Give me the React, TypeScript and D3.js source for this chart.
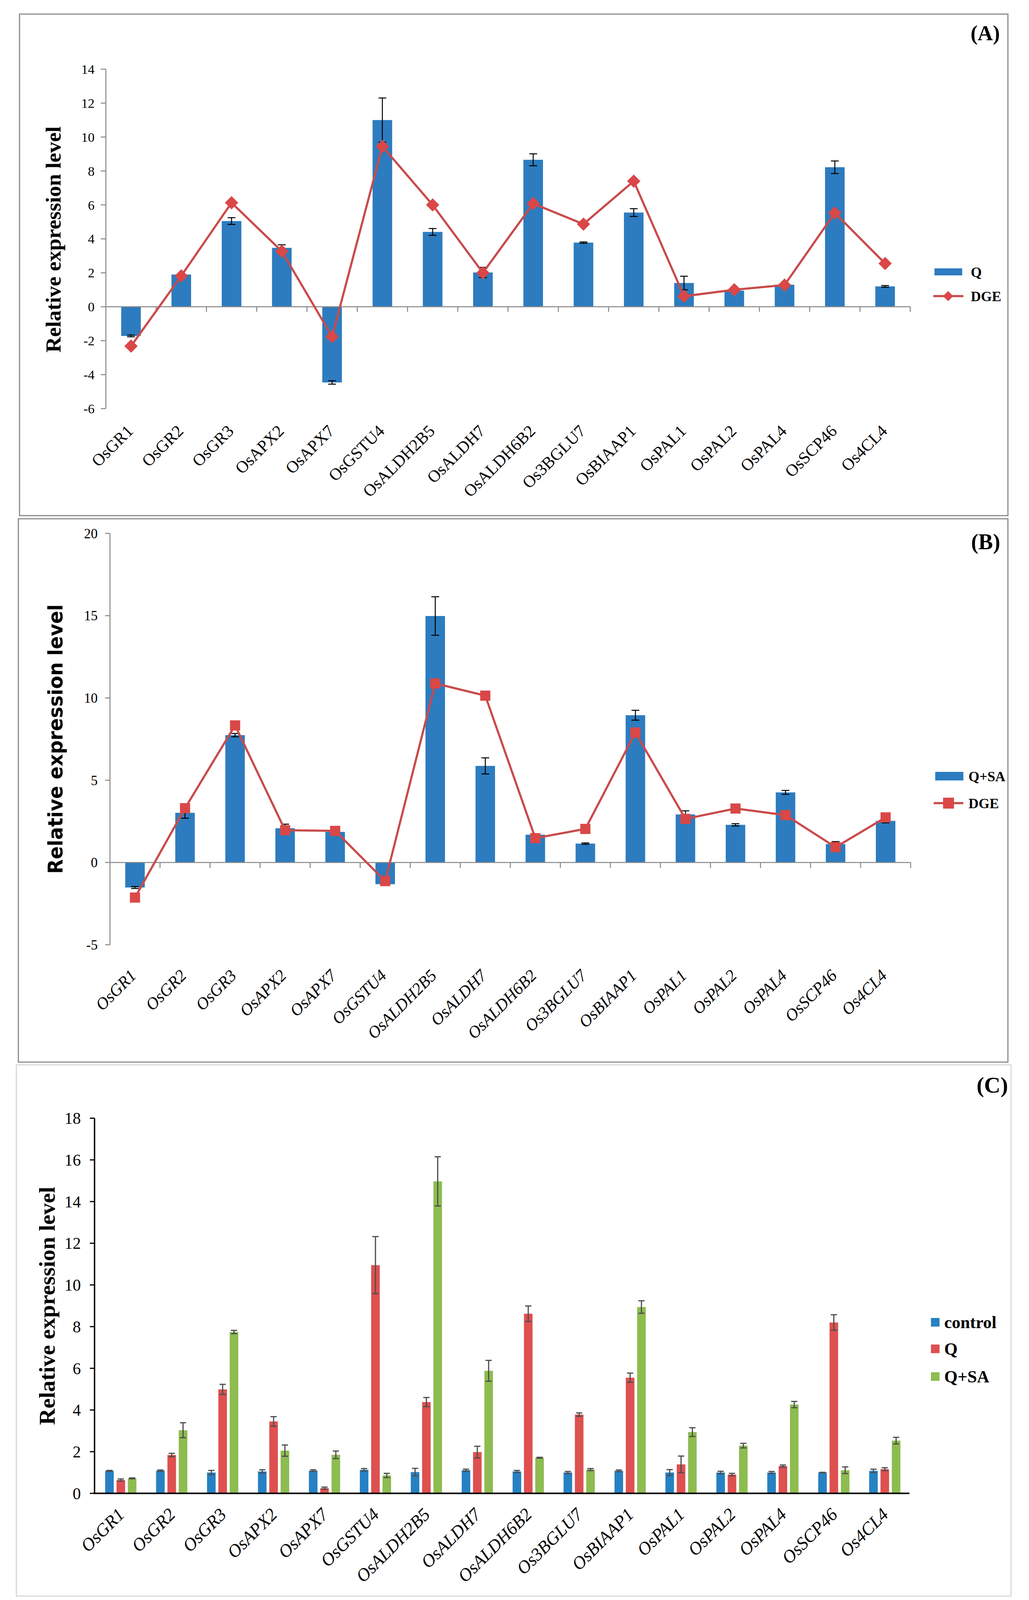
import React from "react";
import * as d3 from "d3";

// ---------------- DATA ----------------
const genes = [
  "OsGR1", "OsGR2", "OsGR3", "OsAPX2", "OsAPX7", "OsGSTU4", "OsALDH2B5", "OsALDH7",
  "OsALDH6B2", "Os3BGLU7", "OsBIAAP1", "OsPAL1", "OsPAL2", "OsPAL4", "OsSCP46", "Os4CL4",
];

// Panel A: Q (qRT-PCR) vs DGE
const qA = [-1.72, 1.9, 5.05, 3.47, -4.46, 11.0, 4.41, 2.02, 8.66, 3.78, 5.55, 1.4, 0.95, 1.3, 8.22, 1.2];
const qAErr = [0.05, 0.05, 0.2, 0.18, 0.1, 1.3, 0.2, 0.3, 0.35, 0.04, 0.23, 0.4, 0.05, 0.05, 0.37, 0.05];
const dgeA = [-2.32, 1.82, 6.13, 3.27, -1.76, 9.45, 6.0, 2.0, 6.08, 4.87, 7.4, 0.62, 1.0, 1.28, 5.53, 2.55];
const ticksA = [-6, -4, -2, 0, 2, 4, 6, 8, 10, 12, 14];

// Panel B: Q+SA vs DGE
const qsaB = [-1.52, 3.02, 7.74, 2.08, 1.86, -1.32, 14.98, 5.87, 1.69, 1.15, 8.95, 2.92, 2.29, 4.26, 1.12, 2.53];
const qsaBErr = [0.06, 0.33, 0.1, 0.25, 0.18, 0.05, 1.17, 0.49, 0.03, 0.04, 0.3, 0.22, 0.07, 0.12, 0.15, 0.12];
const dgeB = [-2.13, 3.3, 8.33, 1.96, 1.92, -1.13, 10.88, 10.14, 1.48, 2.04, 7.9, 2.65, 3.28, 2.88, 0.93, 2.74];
const ticksB = [-5, 0, 5, 10, 15, 20];

// Panel C: control, Q, Q+SA
const ctrlC = [1.08, 1.09, 1.0, 1.05, 1.09, 1.13, 1.02, 1.11, 1.05, 1.0, 1.08, 1.0, 1.0, 1.0, 1.0, 1.08];
const ctrlCErr = [0.02, 0.03, 0.1, 0.08, 0.04, 0.06, 0.18, 0.05, 0.05, 0.05, 0.04, 0.14, 0.06, 0.05, 0.01, 0.08];
const qC = [0.64, 1.84, 4.99, 3.45, 0.25, 10.95, 4.38, 1.98, 8.62, 3.78, 5.55, 1.39, 0.9, 1.31, 8.2, 1.16];
const qCErr = [0.05, 0.08, 0.24, 0.23, 0.05, 1.37, 0.22, 0.28, 0.37, 0.08, 0.22, 0.4, 0.06, 0.05, 0.37, 0.07];
const qsaC = [0.72, 3.03, 7.74, 2.05, 1.85, 0.86, 14.97, 5.88, 1.71, 1.14, 8.94, 2.94, 2.29, 4.26, 1.11, 2.53];
const qsaCErr = [0.02, 0.36, 0.08, 0.27, 0.18, 0.1, 1.18, 0.5, 0.02, 0.05, 0.3, 0.21, 0.11, 0.15, 0.16, 0.16];
const ticksC = [0, 2, 4, 6, 8, 10, 12, 14, 16, 18];
const seriesC = ["control", "Q", "Q+SA"];

// ---------------- STYLE ----------------
const SERIF = "'Liberation Serif', 'Times New Roman', serif";
const SANS = "'DejaVu Sans', Verdana, sans-serif";
const BLUE = "#2C7CBF";
const LINE_RED = "#C94B4B";
const MARK_RED = "#DA4747";
const C_COLORS = ["#2681C3", "#DF5050", "#8DBC50"];

function ErrBar({ x, y1, y2, hw, stroke, sw }: any) {
  return (
    <g stroke={stroke} strokeWidth={sw}>
      <line x1={x} x2={x} y1={y1} y2={y2} />
      <line x1={x - hw} x2={x + hw} y1={y1} y2={y1} />
      <line x1={x - hw} x2={x + hw} y1={y2} y2={y2} />
    </g>
  );
}

function PanelA() {
  const x = d3.scaleBand<string>().domain(genes).range([271, 2330]);
  const y = d3.scaleLinear().domain([-6, 14]).range([1046, 177]);
  const bw = x.bandwidth() * 0.39;
  const cx = (g: string) => (x(g) as number) + x.bandwidth() / 2;
  const line = d3.line<number>().x((_, i) => cx(genes[i])).y((d) => y(d));
  const diamond = (px: number, py: number, r: number) =>
    `M${px},${py - r}L${px + r},${py}L${px},${py + r}L${px - r},${py}Z`;
  const axisColor = "#868686";
  return (
    <g>
      <rect x={50} y={36} width={2530} height={1284} fill="none" stroke="#8c8c8c" strokeWidth={3} />
      {/* y axis */}
      <line x1={271} x2={271} y1={y(-6)} y2={y(14)} stroke={axisColor} strokeWidth={2.5} />
      {ticksA.map((t) => (
        <g key={t}>
          <line x1={258} x2={271} y1={y(t)} y2={y(t)} stroke={axisColor} strokeWidth={2.5} />
          <text x={242} y={y(t)} dy="0.35em" textAnchor="end" fontFamily={SERIF} fontSize={34}>{t}</text>
        </g>
      ))}
      {/* bars */}
      {genes.map((g, i) => (
        <rect key={g} x={cx(g) - bw / 2} width={bw} y={Math.min(y(0), y(qA[i]))}
          height={Math.abs(y(qA[i]) - y(0))} fill={BLUE} />
      ))}
      {/* x axis */}
      <line x1={271} x2={2330} y1={y(0)} y2={y(0)} stroke={axisColor} strokeWidth={2.5} />
      {genes.map((g) => (
        <line key={g} x1={(x(g) as number) + x.bandwidth()} x2={(x(g) as number) + x.bandwidth()}
          y1={y(0)} y2={y(0) + 13} stroke={axisColor} strokeWidth={2.5} />
      ))}
      {genes.map((g, i) => (
        <ErrBar key={g} x={cx(g)} y1={y(qA[i] + qAErr[i])} y2={y(qA[i] - qAErr[i])} hw={10} stroke="#000" sw={2.5} />
      ))}
      <path d={line(dgeA) as string} fill="none" stroke={LINE_RED} strokeWidth={5.5} />
      {genes.map((g, i) => (
        <path key={g} d={diamond(cx(g), y(dgeA[i]), 17)} fill={MARK_RED} />
      ))}
      {genes.map((g) => (
        <text key={g} transform={`translate(${cx(g) + 8},${1106}) rotate(-45)`} textAnchor="end"
          fontFamily={SERIF} fontSize={43}>{g}</text>
      ))}
      <text transform="translate(136,613) rotate(-90)" textAnchor="middle" dy="0.35em" fontFamily={SERIF}
        fontWeight="bold" fontSize={54} textLength={579} lengthAdjust="spacingAndGlyphs">Relative expression level</text>
      {/* legend */}
      <rect x={2392} y={687} width={71} height={18} fill={BLUE} />
      <text x={2485} y={696} dy="0.35em" fontFamily={SERIF} fontWeight="bold" fontSize={36}>Q</text>
      <line x1={2389} x2={2466} y1={758} y2={758} stroke={LINE_RED} strokeWidth={5.5} />
      <path d={diamond(2427, 758, 13)} fill={MARK_RED} />
      <text x={2485} y={758} dy="0.35em" fontFamily={SERIF} fontWeight="bold" fontSize={36}>DGE</text>
      <text x={2522} y={103} textAnchor="middle" fontFamily={SERIF} fontWeight="bold" fontSize={54}>(A)</text>
    </g>
  );
}

function PanelB() {
  const x = d3.scaleBand<string>().domain(genes).range([281.5, 2331]);
  const y = d3.scaleLinear().domain([-5, 20]).range([2418.6, 1365.5]);
  const bw = x.bandwidth() * 0.39;
  const cx = (g: string) => (x(g) as number) + x.bandwidth() / 2;
  const line = d3.line<number>().x((_, i) => cx(genes[i])).y((d) => y(d));
  const axisColor = "#868686";
  const ms = 26;
  return (
    <g>
      <rect x={47} y={1328} width={2533} height={1391} fill="none" stroke="#8c8c8c" strokeWidth={3} />
      <line x1={281.5} x2={281.5} y1={y(-5)} y2={y(20)} stroke={axisColor} strokeWidth={2.5} />
      {ticksB.map((t) => (
        <g key={t}>
          <line x1={269} x2={281.5} y1={y(t)} y2={y(t)} stroke={axisColor} strokeWidth={2.5} />
          <text x={250} y={y(t)} dy="0.35em" textAnchor="end" fontFamily={SERIF} fontSize={35}>{t}</text>
        </g>
      ))}
      {genes.map((g, i) => (
        <rect key={g} x={cx(g) - bw / 2} width={bw} y={Math.min(y(0), y(qsaB[i]))}
          height={Math.abs(y(qsaB[i]) - y(0))} fill={BLUE} />
      ))}
      <line x1={281.5} x2={2331} y1={y(0)} y2={y(0)} stroke={axisColor} strokeWidth={2.5} />
      {genes.map((g) => (
        <line key={g} x1={(x(g) as number) + x.bandwidth()} x2={(x(g) as number) + x.bandwidth()}
          y1={y(0)} y2={y(0) + 14} stroke={axisColor} strokeWidth={2.5} />
      ))}
      {genes.map((g, i) => (
        <ErrBar key={g} x={cx(g)} y1={y(qsaB[i] + qsaBErr[i])} y2={y(qsaB[i] - qsaBErr[i])} hw={10} stroke="#000" sw={2.5} />
      ))}
      <path d={line(dgeB) as string} fill="none" stroke={LINE_RED} strokeWidth={5.5} />
      {genes.map((g, i) => (
        <rect key={g} x={cx(g) - ms / 2} y={y(dgeB[i]) - ms / 2} width={ms} height={ms} fill={MARK_RED} />
      ))}
      {genes.map((g) => (
        <text key={g} transform={`translate(${cx(g) + 6},${2500}) rotate(-45)`} textAnchor="end"
          fontFamily={SERIF} fontStyle="italic" fontSize={43}>{g}</text>
      ))}
      <text transform="translate(142,1892) rotate(-90)" textAnchor="middle" dy="0.35em" fontFamily={SANS}
        fontWeight="bold" fontSize={52} textLength={690} lengthAdjust="spacingAndGlyphs">Relative expression level</text>
      <rect x={2394} y={1976} width={72} height={22} fill={BLUE} />
      <text x={2479} y={1987} dy="0.35em" fontFamily={SERIF} fontWeight="bold" fontSize={36}>Q+SA</text>
      <line x1={2390} x2={2466} y1={2056} y2={2056} stroke={LINE_RED} strokeWidth={5.5} />
      <rect x={2428 - 14} y={2056 - 14} width={28} height={28} fill={MARK_RED} />
      <text x={2479} y={2056} dy="0.35em" fontFamily={SERIF} fontWeight="bold" fontSize={36}>DGE</text>
      <text x={2523} y={1406} textAnchor="middle" fontFamily={SERIF} fontWeight="bold" fontSize={56}>(B)</text>
    </g>
  );
}

function PanelC() {
  const x = d3.scaleBand<string>().domain(genes).range([242, 2328]);
  const y = d3.scaleLinear().domain([0, 18]).range([3823, 2862.6]);
  const bw = 22;
  const step = 29;
  const cx = (g: string) => (x(g) as number) + x.bandwidth() / 2 + 2;
  const vals = [ctrlC, qC, qsaC];
  const errs = [ctrlCErr, qCErr, qsaCErr];
  return (
    <g>
      <rect x={42} y={2726} width={2546} height={1360} fill="none" stroke="#d9d9d9" strokeWidth={3} />
      {vals.map((arr, k) =>
        genes.map((g, i) => (
          <rect key={`${k}-${g}`} x={cx(g) + (k - 1) * step - bw / 2} width={bw} y={y(arr[i])}
            height={y(0) - y(arr[i])} fill={C_COLORS[k]} />
        ))
      )}
      {vals.map((arr, k) =>
        genes.map((g, i) => (
          <ErrBar key={`e${k}-${g}`} x={cx(g) + (k - 1) * step} y1={y(arr[i] + errs[k][i])}
            y2={y(Math.max(0, arr[i] - errs[k][i]))} hw={8} stroke="#4d4d4d" sw={3} />
        ))
      )}
      <line x1={242} x2={242} y1={y(0)} y2={y(18)} stroke="#000" strokeWidth={3.5} />
      {ticksC.map((t) => (
        <g key={t}>
          <line x1={230} x2={242} y1={y(t)} y2={y(t)} stroke="#000" strokeWidth={3} />
          <text x={207} y={y(t)} dy="0.35em" textAnchor="end" fontFamily={SERIF} fontSize={42}>{t}</text>
        </g>
      ))}
      <line x1={240} x2={2328} y1={y(0)} y2={y(0)} stroke="#000" strokeWidth={4} />
      {genes.map((g) => (
        <text key={g} transform={`translate(${cx(g) + 12},${3880}) rotate(-45)`} textAnchor="end"
          fontFamily={SERIF} fontStyle="italic" fontSize={46}>{g}</text>
      ))}
      <text transform="translate(120,3343) rotate(-90)" textAnchor="middle" dy="0.35em" fontFamily={SERIF}
        fontWeight="bold" fontSize={56} textLength={610} lengthAdjust="spacingAndGlyphs">Relative expression level</text>
      {seriesC.map((s, k) => (
        <g key={s}>
          <rect x={2383} y={[3385, 3453, 3524][k] - 11} width={22} height={22} fill={C_COLORS[k]} />
          <text x={2417} y={[3385, 3453, 3524][k]} dy="0.35em" fontFamily={SERIF} fontWeight="bold" fontSize={44}>{s}</text>
        </g>
      ))}
      <text x={2540} y={2797} textAnchor="middle" fontFamily={SERIF} fontWeight="bold" fontSize={58}>(C)</text>
    </g>
  );
}

export default function App() {
  return (
    <svg width={2634} height={4120} viewBox="0 0 2634 4120"
      style={{ position: "absolute", left: 0, top: 0, background: "#fff" }}>
      <rect x={0} y={0} width={2634} height={4120} fill="#fff" />
      <PanelA />
      <PanelB />
      <PanelC />
    </svg>
  );
}
